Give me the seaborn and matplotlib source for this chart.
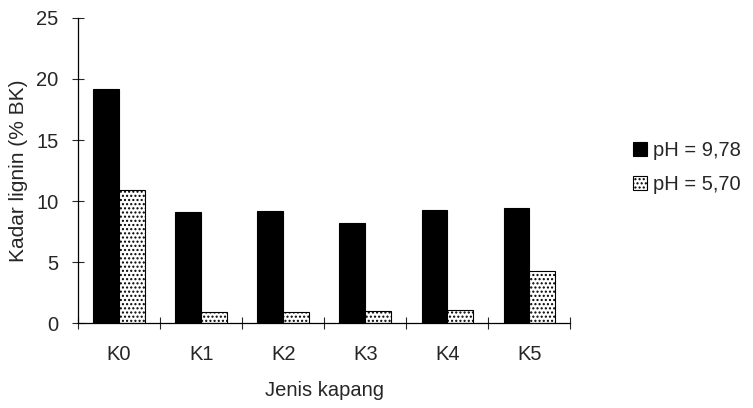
import matplotlib
matplotlib.use("Agg")
import matplotlib.pyplot as plt
import seaborn as sns
import pandas as pd
import numpy as np

categories = ["K0", "K1", "K2", "K3", "K4", "K5"]
ph_high = [19.2, 9.1, 9.2, 8.2, 9.3, 9.4]
ph_low = [10.9, 0.9, 0.9, 1.0, 1.1, 4.3]
series = ["pH = 9,78", "pH = 5,70"]

df = pd.DataFrame({
    "Jenis kapang": categories * 2,
    "value": ph_high + ph_low,
    "series": [series[0]] * len(categories) + [series[1]] * len(categories),
})

sns.set_style("white")
plt.rcParams['font.family'] = ['Liberation Sans', 'DejaVu Sans']
plt.rcParams['hatch.linewidth'] = 1.0

fig = plt.figure(figsize=(7.53, 4.08), dpi=100)
ax = fig.add_axes([0.1036, 0.208, 0.654, 0.748])

sns.barplot(data=df, x="Jenis kapang", y="value", hue="series",
            palette=["black", "white"], width=0.63, edgecolor="black",
            linewidth=0.8, ax=ax, legend=True)

for bar in ax.containers[1]:
    bar.set_hatch("....")
    bar.set_edgecolor("black")

ax.set_ylim(0, 25)
ax.set_yticks([0, 5, 10, 15, 20, 25])
ax.set_xlim(-0.5, len(categories) - 0.5)
ax.set_xticks(range(len(categories)))
ax.set_xticklabels(categories)
ax.set_xticks(np.arange(-0.5, len(categories), 1.0), minor=True)

ax.tick_params(axis="y", which="major", direction="inout", length=8, width=0.8,
               labelsize=14.5, pad=10, left=True)
ax.tick_params(axis="x", which="major", length=0, labelsize=14.5, pad=16)
ax.tick_params(axis="x", which="minor", direction="inout", length=9, width=0.8,
               bottom=True)

for s in ["top", "right"]:
    ax.spines[s].set_visible(False)
for s in ["left", "bottom"]:
    ax.spines[s].set_linewidth(0.9)
    ax.spines[s].set_color("black")

ax.set_xlabel("Jenis kapang", fontsize=14.5, labelpad=12)
ax.set_ylabel("Kadar lignin (% BK)", fontsize=15, labelpad=6)

handles, labels = ax.get_legend_handles_labels()
leg = ax.legend(handles, labels, loc="center left", bbox_to_anchor=(1.09, 0.51),
                frameon=False, fontsize=14.5, handlelength=0.7, handleheight=0.7,
                handletextpad=0.3, labelspacing=0.75)
lh = leg.legend_handles[1]
lh.set_hatch("....")
lh.set_edgecolor("black")

fig.savefig("out.png", dpi=100)
